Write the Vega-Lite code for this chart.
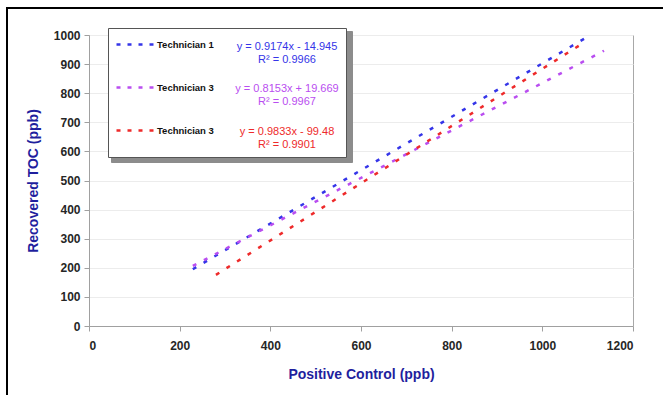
{
  "$schema": "https://vega.github.io/schema/vega-lite/v6.json",
  "width": 544,
  "height": 291,
  "autosize": {"type": "none"},
  "padding": {"left": 89, "top": 35, "right": 30, "bottom": 69},
  "background": "white",
  "config": {
    "font": "Liberation Sans",
    "view": {"stroke": "#a8a8a8", "strokeWidth": 1},
    "axis": {
      "domainColor": "#a0a0a0",
      "tickColor": "#a0a0a0",
      "tickSize": 5,
      "labelFont": "Liberation Sans",
      "labelFontSize": 12,
      "labelFontWeight": "bold",
      "labelColor": "#262626",
      "titleFont": "Liberation Sans",
      "titleFontSize": 14,
      "titleFontWeight": "bold",
      "titleColor": "#1f1f9e"
    }
  },
  "data": {
    "values": [
      {"series": "Technician 1", "fit": "y = 0.9174x - 14.945; R² = 0.9966", "x": 229, "y": 195.1},
      {"series": "Technician 1", "fit": "y = 0.9174x - 14.945; R² = 0.9966", "x": 1106, "y": 999.7},
      {"series": "Technician 3", "fit": "y = 0.8153x + 19.669; R² = 0.9967", "x": 229, "y": 206.4},
      {"series": "Technician 3", "fit": "y = 0.8153x + 19.669; R² = 0.9967", "x": 1136, "y": 945.9},
      {"series": "Technician 3 #2", "fit": "y = 0.9833x - 99.48; R² = 0.9901", "x": 280, "y": 175.8},
      {"series": "Technician 3 #2", "fit": "y = 0.9833x - 99.48; R² = 0.9901", "x": 1090, "y": 972.3}
    ]
  },
  "mark": {"type": "line"},
  "encoding": {
    "x": {
      "field": "x",
      "type": "quantitative",
      "scale": {"domain": [0, 1200], "nice": false},
      "axis": {
        "values": [0, 200, 400, 600, 800, 1000, 1200],
        "format": "d",
        "title": "Positive Control (ppb)",
        "grid": false,
        "labelPadding": 9,
        "titlePadding": 16
      }
    },
    "y": {
      "field": "y",
      "type": "quantitative",
      "scale": {"domain": [0, 1000], "nice": false},
      "axis": {
        "values": [0, 100, 200, 300, 400, 500, 600, 700, 800, 900, 1000],
        "format": "d",
        "title": "Recovered TOC (ppb)",
        "grid": true,
        "gridColor": "#ececec",
        "labelPadding": 4,
        "titlePadding": 13
      }
    },
    "color": {
      "field": "series",
      "type": "nominal",
      "scale": {
        "domain": ["Technician 1", "Technician 3", "Technician 3 #2"],
        "range": ["#3535e8", "#b94ef0", "#ee2a2a"]
      },
      "legend": {
        "orient": "none",
        "legendX": 26,
        "legendY": -11,
        "title": null,
        "symbolType": "stroke",
        "symbolSize": 1444,
        "symbolStrokeWidth": 2.5,
        "symbolDash": [4, 7],
        "labelFont": "Liberation Sans",
        "labelFontSize": 9.5,
        "labelFontWeight": "bold",
        "labelColor": "#111111",
        "labelOffset": 1,
        "rowPadding": 17,
        "padding": 0,
        "zindex": 3,
        "labelExpr": "split(datum.label, ' #')[0]"
      }
    },
    "opacity": {
      "field": "fit",
      "type": "nominal",
      "scale": {
        "domain": [
          "y = 0.9174x - 14.945; R² = 0.9966",
          "y = 0.8153x + 19.669; R² = 0.9967",
          "y = 0.9833x - 99.48; R² = 0.9901"
        ],
        "range": [1, 1, 1]
      },
      "legend": {
        "orient": "none",
        "legendX": 19,
        "legendY": -7,
        "title": " ",
        "titleFontSize": 1,
        "titlePadding": 5,
        "symbolType": "square",
        "symbolSize": 64,
        "labelExpr": "split(datum.label, '; ')",
        "labelAlign": "center",
        "labelFont": "Liberation Sans",
        "labelFontSize": 11,
        "labelOffset": 161,
        "labelLimit": 200,
        "rowPadding": 16.5,
        "padding": 7,
        "fillColor": "white",
        "strokeColor": "#555555",
        "zindex": 2,
        "encode": {
          "symbols": {
            "update": {
              "opacity": {"value": 0},
              "stroke": {"value": "transparent"},
              "fill": {"value": "transparent"}
            }
          },
          "labels": {
            "update": {
              "fill": {"signal": "scale('color', domain('color')[indexof(domain('opacity'), datum.value)])"}
            }
          }
        }
      }
    },
    "strokeWidth": {
      "field": "fit",
      "type": "nominal",
      "scale": {"range": [2.5, 2.5, 2.5]},
      "legend": {
        "orient": "none",
        "legendX": 22,
        "legendY": -4,
        "title": null,
        "symbolType": "square",
        "symbolSize": 400,
        "labelExpr": "''",
        "labelOffset": 204,
        "rowPadding": 25.5,
        "padding": 7,
        "fillColor": "#8c8c8c",
        "strokeColor": "#8c8c8c",
        "zindex": 1,
        "encode": {
          "symbols": {
            "update": {
              "opacity": {"value": 0},
              "stroke": {"value": "transparent"},
              "fill": {"value": "transparent"}
            }
          }
        }
      }
    },
    "strokeDash": {
      "field": "series",
      "type": "nominal",
      "scale": {
        "domain": ["Technician 3 #2", "Technician 3", "Technician 1"],
        "range": [[4, 8.5], [4, 8.5], [4, 8.5]]
      },
      "legend": {
        "orient": "none",
        "legendX": -82,
        "legendY": -27,
        "title": null,
        "padding": 340,
        "symbolType": "square",
        "symbolSize": 40000,
        "labelExpr": "''",
        "labelOffset": 120,
        "strokeColor": "#000000",
        "zindex": 0,
        "encode": {
          "legend": {
            "update": {"strokeWidth": {"value": 2}}
          },
          "symbols": {
            "update": {
              "opacity": {"value": 0},
              "stroke": {"value": "transparent"},
              "fill": {"value": "transparent"}
            }
          }
        }
      }
    }
  }
}
